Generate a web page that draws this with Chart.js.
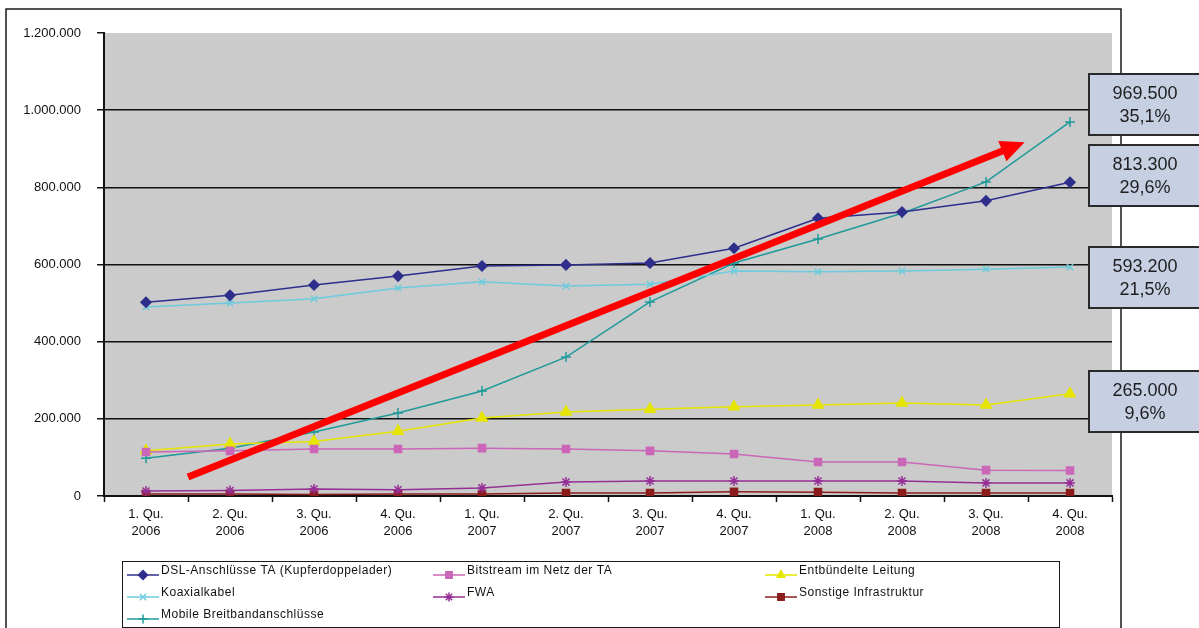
<!DOCTYPE html>
<html lang="de">
<head>
<meta charset="utf-8">
<title>Breitbandanschlüsse nach Infrastruktur 2006–2008</title>
<script src="https://cdn.jsdelivr.net/npm/chart.js@4.4.1/dist/chart.umd.min.js"></script>
<style>
  html, body { margin: 0; padding: 0; background: #fff; }
  #wrap { width: 1199px; height: 628px; }
</style>
</head>
<body>
<div id="wrap"><canvas id="c" width="1199" height="628"></canvas></div>
<script>
// Quartale (Kategorien)
const quarters = [
  ['1. Qu.', '2006'], ['2. Qu.', '2006'], ['3. Qu.', '2006'], ['4. Qu.', '2006'],
  ['1. Qu.', '2007'], ['2. Qu.', '2007'], ['3. Qu.', '2007'], ['4. Qu.', '2007'],
  ['1. Qu.', '2008'], ['2. Qu.', '2008'], ['3. Qu.', '2008'], ['4. Qu.', '2008']
];

// Anschlüsse je Infrastruktur
const dsl        = [502000, 520000, 547000, 570000, 596000, 599000, 604000, 642000, 720000, 736000, 765000, 813300];
const bitstream  = [114000, 117000, 122000, 122000, 124000, 122000, 117000, 109000, 88000, 88000, 67000, 66000];
const entbuendelt = [117000, 135000, 141000, 168000, 202000, 218000, 225000, 231000, 236000, 241000, 236000, 265000];
const koax       = [490000, 500000, 511000, 539000, 555000, 544000, 549000, 583000, 581000, 583000, 588000, 593200];
const fwa        = [13000, 14000, 18000, 16000, 21000, 36000, 39000, 39000, 39000, 39000, 34000, 34000];
const sonstige   = [5000, 5000, 4000, 5000, 5000, 8000, 8000, 11000, 10000, 8000, 8000, 8000];
const mobile     = [98000, 124000, 166000, 215000, 272000, 360000, 503000, 604000, 666000, 733000, 814000, 969500];

// Achsenbeschriftung
const yTicks = [0, 200000, 400000, 600000, 800000, 1000000, 1200000];

// Marktanteile im 4. Quartal 2008 (%)
const shareMobile = 35.1;
const shareDsl = 29.6;
const shareKoax = 21.5;
const shareEntbuendelt = 9.6;

const FONT = "'Liberation Sans', Arial, sans-serif";
const fmt = v => String(v).replace(/\B(?=(\d{3})+(?!\d))/g, '.');
const fmtPct = p => p.toFixed(1).replace('.', ',') + '%';

function series(label, data, color, pointStyle, radius) {
  return {
    label, data,
    borderColor: color, backgroundColor: color,
    pointBackgroundColor: color, pointBorderColor: color,
    borderWidth: 1.5, pointBorderWidth: 1.5,
    pointStyle, pointRadius: radius, pointHoverRadius: radius,
    tension: 0
  };
}

const datasets = [
  series('DSL-Anschlüsse TA (Kupferdoppelader)', dsl, '#2e2f8c', 'rectRot', 5),
  series('Bitstream im Netz der TA', bitstream, '#cc66b8', 'rect', 5),
  series('Entbündelte Leitung', entbuendelt, '#e6e600', 'triangle', 6),
  series('Koaxialkabel', koax, '#6ccbdc', 'crossRot', 4.5),
  series('FWA', fwa, '#962f96', 'star', 5),
  series('Sonstige Infrastruktur', sonstige, '#8b1c1c', 'rect', 5),
  series('Mobile Breitbandanschlüsse', mobile, '#1f9a9a', 'cross', 5)
];

// Hintergrund, Rahmen und graue Zeichenfläche
const pageFrame = {
  id: 'pageFrame',
  beforeDraw(chart) {
    const { ctx, chartArea: a } = chart;
    ctx.save();
    ctx.fillStyle = '#fff';
    ctx.fillRect(0, 0, chart.width, chart.height);
    ctx.strokeStyle = '#1a1a1a';
    ctx.lineWidth = 1.5;
    ctx.beginPath();
    ctx.moveTo(6, chart.height + 2);
    ctx.lineTo(6, 9);
    ctx.lineTo(1121, 9);
    ctx.lineTo(1121, chart.height + 2);
    ctx.stroke();
    ctx.fillStyle = '#cbcbcb';
    ctx.fillRect(a.left, a.top, a.right - a.left, a.bottom - a.top);
    ctx.restore();
  }
};

// Roter Trendpfeil
const trendArrow = {
  id: 'trendArrow',
  afterDatasetsDraw(chart, args, opts) {
    const { ctx, scales: { x, y } } = chart;
    const x0 = x.getPixelForValue(opts.from[0]), y0 = y.getPixelForValue(opts.from[1]);
    const x1 = x.getPixelForValue(opts.to[0]), y1 = y.getPixelForValue(opts.to[1]);
    const ang = Math.atan2(y1 - y0, x1 - x0);
    const headLen = 24, headHalf = 11;
    const bx = x1 - headLen * Math.cos(ang), by = y1 - headLen * Math.sin(ang);
    ctx.save();
    ctx.strokeStyle = opts.color;
    ctx.fillStyle = opts.color;
    ctx.lineWidth = 7;
    ctx.beginPath();
    ctx.moveTo(x0, y0);
    ctx.lineTo(bx + 2 * Math.cos(ang), by + 2 * Math.sin(ang));
    ctx.stroke();
    ctx.beginPath();
    ctx.moveTo(x1, y1);
    ctx.lineTo(bx + headHalf * Math.sin(ang), by - headHalf * Math.cos(ang));
    ctx.lineTo(bx - headHalf * Math.sin(ang), by + headHalf * Math.cos(ang));
    ctx.closePath();
    ctx.fill();
    ctx.restore();
  }
};

// Wertkästen am rechten Rand
const endCallouts = {
  id: 'endCallouts',
  afterDraw(chart, args, opts) {
    const { ctx, chartArea: a, scales: { y } } = chart;
    ctx.save();
    opts.items.forEach(it => {
      const cy = y.getPixelForValue(it.level);
      const h = 61, left = a.right - 23, w = 120;
      const top = Math.round(cy - h / 2);
      ctx.fillStyle = '#c7cfe3';
      ctx.fillRect(left, top, w, h);
      ctx.strokeStyle = '#2a2a2a';
      ctx.lineWidth = 2;
      ctx.strokeRect(left, top, w, h);
      ctx.fillStyle = '#1e1e1e';
      ctx.font = '18px ' + FONT;
      ctx.textAlign = 'center';
      ctx.textBaseline = 'middle';
      const tx = left + 56;
      ctx.fillText(fmt(it.value), tx, top + 20);
      ctx.fillText(fmtPct(it.share), tx, top + 43);
    });
    ctx.restore();
  }
};

// Legende im Kasten unter dem Diagramm
const boxLegend = {
  id: 'boxLegend',
  afterDraw(chart, args, opts) {
    const { ctx } = chart;
    ctx.save();
    ctx.strokeStyle = '#1a1a1a';
    ctx.lineWidth = 1;
    ctx.fillStyle = '#fff';
    ctx.fillRect(122, 561, 937, 66);
    ctx.strokeRect(122.5, 561.5, 937, 66);
    const cols = [127, 433, 765], rows = [571, 593, 615];
    ctx.font = '12px ' + FONT;
    ctx.textBaseline = 'middle';
    ctx.textAlign = 'left';
    if ('letterSpacing' in ctx) ctx.letterSpacing = '0.5px';
    chart.data.datasets.forEach((ds, i) => {
      const x = cols[i % 3], yy = rows[Math.floor(i / 3)];
      ctx.strokeStyle = ds.borderColor;
      ctx.lineWidth = 1.5;
      ctx.beginPath();
      ctx.moveTo(x, yy + 4);
      ctx.lineTo(x + 32, yy + 4);
      ctx.stroke();
      ctx.fillStyle = ds.borderColor;
      Chart.helpers.drawPoint(ctx, {
        pointStyle: ds.pointStyle, radius: Math.min(ds.pointRadius, 4.5),
        rotation: 0, borderWidth: 1.5
      }, x + 16, yy + 4);
      ctx.fillStyle = '#111';
      ctx.fillText(ds.label, x + 34, yy);
    });
    ctx.restore();
  }
};

new Chart(document.getElementById('c'), {
  type: 'line',
  data: { labels: quarters, datasets },
  plugins: [pageFrame, trendArrow, endCallouts, boxLegend],
  options: {
    responsive: false,
    animation: false,
    devicePixelRatio: 1,
    layout: { padding: { left: 0, top: 33, right: 87, bottom: 86 } },
    plugins: {
      legend: { display: false },
      tooltip: { enabled: false },
      trendArrow: { from: [0.5, 49000], to: [10.46, 917000], color: '#ff0000' },
      endCallouts: {
        items: [
          { value: mobile[mobile.length - 1], share: shareMobile, level: 1015000 },
          { value: dsl[dsl.length - 1], share: shareDsl, level: 830000 },
          { value: koax[koax.length - 1], share: shareKoax, level: 566000 },
          { value: entbuendelt[entbuendelt.length - 1], share: shareEntbuendelt, level: 245000 }
        ]
      }
    },
    scales: {
      x: {
        offset: true,
        afterFit: s => { s.height = 46; },
        grid: { offset: true, drawOnChartArea: false, tickLength: 6, tickColor: '#111', tickWidth: 1.5 },
        border: { color: '#111', width: 2 },
        ticks: {
          autoSkip: false, maxRotation: 0, padding: 4, color: '#111',
          font: { family: FONT, size: 13, lineHeight: 1.3 }
        }
      },
      y: {
        min: 0, max: 1200000,
        afterFit: s => { s.width = 104; },
        afterBuildTicks: s => { s.ticks = yTicks.map(v => ({ value: v })); },
        grid: {
          color: c => (c.tick && c.tick.value > 0 && c.tick.value < 1200000) ? '#111' : 'rgba(0,0,0,0)',
          lineWidth: 1.5, tickColor: '#111', tickLength: 7, tickWidth: 1.5
        },
        border: { color: '#111', width: 2 },
        ticks: {
          padding: 16, color: '#111',
          font: { family: FONT, size: 13 },
          callback: v => fmt(v)
        }
      }
    }
  }
});
</script>
</body>
</html>
